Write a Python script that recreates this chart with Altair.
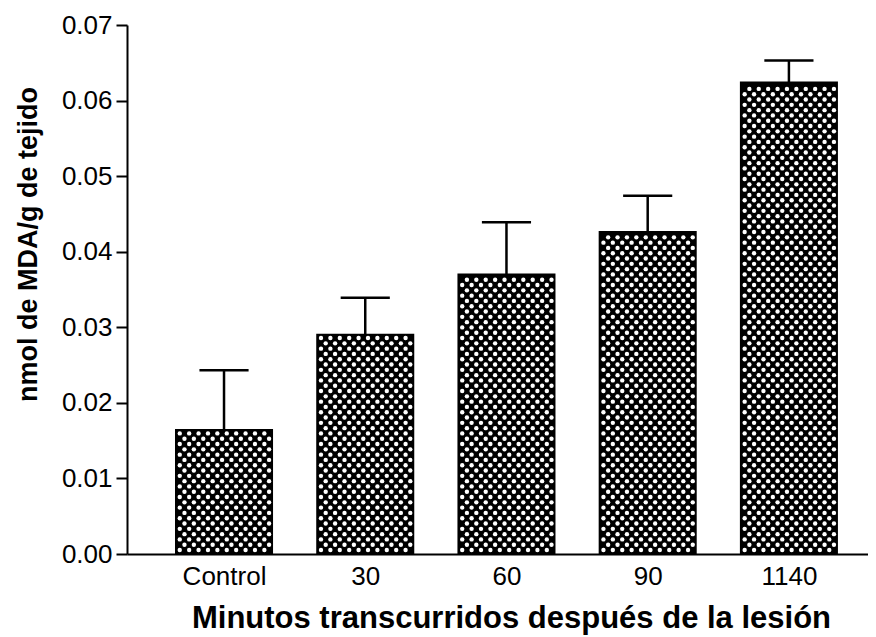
import altair as alt
import pandas as pd
import numpy as np

# ---- data ----
categories = ["Control", "30", "60", "90", "1140"]
means = [0.0164, 0.0290, 0.0370, 0.0426, 0.0624]
errors = [0.0079, 0.0049, 0.0069, 0.0048, 0.0029]
y_ticks = [0.00, 0.01, 0.02, 0.03, 0.04, 0.05, 0.06, 0.07]

FONT = "Liberation Sans"
W, H = 741, 529
X_DOMAIN = [-0.687, 4.56]
Y_DOMAIN = [0, 0.07]
HALF = 0.34      # bar half width (x units)
CAP = 0.174      # error cap half width (x units)

df = pd.DataFrame({"idx": list(range(len(categories))), "cat": categories,
                   "mean": means, "err": errors})

# crosshatch pattern: white dots on black bars, derived from each bar's value
px_x = W / (X_DOMAIN[1] - X_DOMAIN[0])
px_y = H / (Y_DOMAIN[1] - Y_DOMAIN[0])
dx = 9.4 / px_x
dy = 5.3 / px_y
rows = []
for i, m in enumerate(means):
    k = 0
    while dy * (0.75 + k) <= m - dy * 0.45:
        yv = dy * (0.75 + k)
        off = (k % 2) * dx / 2
        j = 0
        while True:
            xv = i - HALF + dx * 0.4 + off + j * dx
            if xv > i + HALF - dx * 0.3:
                break
            rows.append({"px": xv, "py": yv})
            j += 1
        k += 1
dots_df = pd.DataFrame(rows)

label_expr = "[" + ",".join("'" + c + "'" for c in categories) + "][datum.value]"

xscale = alt.Scale(domain=X_DOMAIN, nice=False, zero=False)
yscale = alt.Scale(domain=Y_DOMAIN, nice=False)

xaxis = alt.Axis(
    title="Minutos transcurridos después de la lesión",
    values=list(range(len(categories))), labelExpr=label_expr,
    ticks=False, grid=False, domainColor="black", domainWidth=2,
    labelFont=FONT, labelFontSize=26, labelColor="black", labelPadding=9,
    labelFlush=False, labelOverlap=False,
    titleFont=FONT, titleFontSize=31, titleFontWeight="bold", titleColor="black",
    titleX=384, titleY=73, titleBaseline="alphabetic", titleAlign="center",
)
yaxis = alt.Axis(
    title="nmol de MDA/g de tejido", values=y_ticks, format=".2f",
    grid=False, domainColor="black", domainWidth=2,
    ticks=True, tickSize=11, tickWidth=2, tickColor="black",
    labelFont=FONT, labelFontSize=26, labelColor="black", labelPadding=4,
    titleFont=FONT, titleFontSize=27, titleFontWeight="bold", titleColor="black",
    titleX=-91, titleY=219, titleAngle=270, titleBaseline="alphabetic",
    titleAlign="center",
)

base = alt.Chart(df).transform_calculate(
    lo=f"datum.idx - {HALF}", hi=f"datum.idx + {HALF}",
    clo=f"datum.idx - {CAP}", chi=f"datum.idx + {CAP}",
    upper="datum.mean + datum.err", zero="0",
)

bars = base.mark_bar(color="black", stroke="black", strokeWidth=2).encode(
    x=alt.X("lo:Q", scale=xscale, axis=xaxis),
    x2="hi:Q",
    y=alt.Y("mean:Q", scale=yscale, axis=yaxis),
    y2="zero:Q",
)

dots = alt.Chart(dots_df).mark_point(
    shape="circle", filled=True, color="white", size=19, opacity=1
).encode(
    x=alt.X("px:Q", scale=xscale, axis=xaxis),
    y=alt.Y("py:Q", scale=yscale, axis=yaxis),
)

err_line = base.mark_rule(color="black", strokeWidth=2.5).encode(
    x=alt.X("idx:Q", scale=xscale, axis=xaxis),
    y=alt.Y("mean:Q", scale=yscale, axis=yaxis),
    y2="upper:Q",
)

cap = base.mark_rule(color="black", strokeWidth=2.5).encode(
    x=alt.X("clo:Q", scale=xscale, axis=xaxis),
    x2="chi:Q",
    y=alt.Y("upper:Q", scale=yscale, axis=yaxis),
)

chart = alt.layer(bars, dots, err_line, cap).properties(
    width=W, height=H,
    autosize=alt.AutoSizeParams(type="none"),
    padding={"left": 119, "top": 17, "right": 0, "bottom": 82},
    background="white",
).configure_view(stroke=None)

chart.save("out.html", embed_options={"renderer": "svg", "actions": False})
